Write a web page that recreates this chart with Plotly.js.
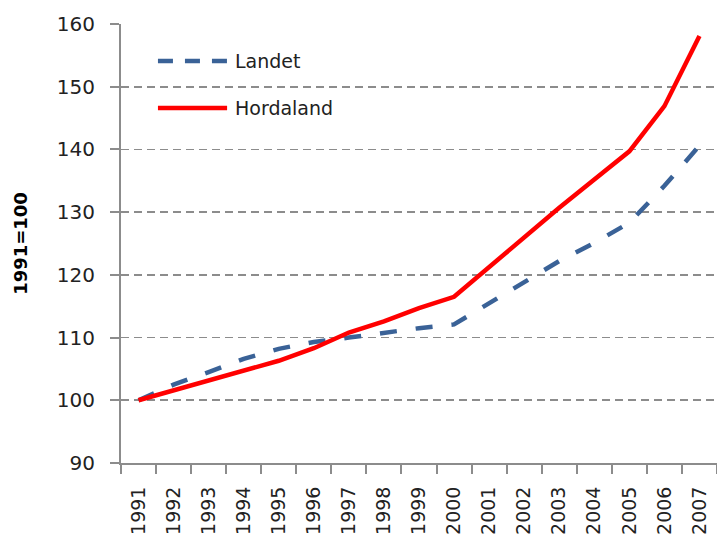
<!DOCTYPE html>
<html><head><meta charset="utf-8">
<script src="https://cdn.plot.ly/plotly-3.0.1.min.js"></script>
<style>html,body{margin:0;padding:0;background:#fff}#chart{width:717px;height:539px}</style>
</head><body><div id="chart"></div>
<script>
const years = ["1991","1992","1993","1994","1995","1996","1997","1998","1999","2000","2001","2002","2003","2004","2005","2006","2007"];
const landet = [100,102.5,104.5,106.6,108.2,109.3,110.0,110.8,111.5,112.1,115.4,118.9,122.2,125.1,128.3,134.2,140.6];
const hordaland = [100,101.6,103.2,104.7,106.3,108.3,110.8,112.6,114.7,116.5,121.3,126.1,130.7,135.2,139.7,146.9,158.1];
const seriesNames = ["Landet", "Hordaland"];

const fam = "DejaVu Sans, Verdana, sans-serif";
const blue = "#3a6297", red = "#ff0000", blueDash = "17px,19px";
const data = [
  {x: years, y: landet, name: seriesNames[0], type: "scatter", mode: "lines",
   line: {color: blue, width: 4.5, dash: blueDash}},
  {x: years, y: hordaland, name: seriesNames[1], type: "scatter", mode: "lines",
   line: {color: red, width: 4.5}}
];
const layout = {
  width: 717, height: 539,
  margin: {l: 121, r: 0, t: 24, b: 76, pad: 0},
  paper_bgcolor: "#fff", plot_bgcolor: "#fff",
  font: {family: fam, size: 16, color: "#222"},
  showlegend: false,
  xaxis: {type: "category", range: [-0.5, 16.5], showline: true, linecolor: "#8c8c8c", linewidth: 2,
    ticks: "outside", ticklen: 9, tickcolor: "#8c8c8c", tickwidth: 2, tickson: "boundaries", tickangle: -90,
    ticklabelstandoff: 14,
    showgrid: false, zeroline: false, tickfont: {family: fam, size: 19, color: "#222"}},
  yaxis: {range: [90, 160], dtick: 10, tick0: 90, showline: true, linecolor: "#8c8c8c", linewidth: 2,
    ticks: "outside", ticklen: 9, tickcolor: "#8c8c8c", tickwidth: 2, showgrid: true, gridcolor: "#8c8c8c",
    griddash: "8px,5px", gridwidth: 1.8, zeroline: false, ticklabelstandoff: 11,
    tickfont: {family: fam, size: 20, color: "#222"},
    title: {text: "<b>1991=100</b>", standoff: 25, font: {family: fam, size: 18, color: "#000"}}},
  shapes: [
    {type: "line", xref: "paper", yref: "paper", x0: 0.062, x1: 0.178, y0: 0.9157, y1: 0.9157,
     line: {color: blue, width: 4.5, dash: "15px,12px"}},
    {type: "line", xref: "paper", yref: "paper", x0: 0.062, x1: 0.178, y0: 0.8087, y1: 0.8087,
     line: {color: red, width: 4.5}}
  ],
  annotations: [
    {text: seriesNames[0], xref: "paper", yref: "paper", x: 0.188, y: 0.9157, xanchor: "left", yanchor: "middle",
     showarrow: false, font: {family: fam, size: 19, color: "#222"}},
    {text: seriesNames[1], xref: "paper", yref: "paper", x: 0.188, y: 0.8087, xanchor: "left", yanchor: "middle",
     showarrow: false, font: {family: fam, size: 19, color: "#222"}}
  ]
};
Plotly.newPlot("chart", data, layout, {displayModeBar: false, staticPlot: true});
</script></body></html>
